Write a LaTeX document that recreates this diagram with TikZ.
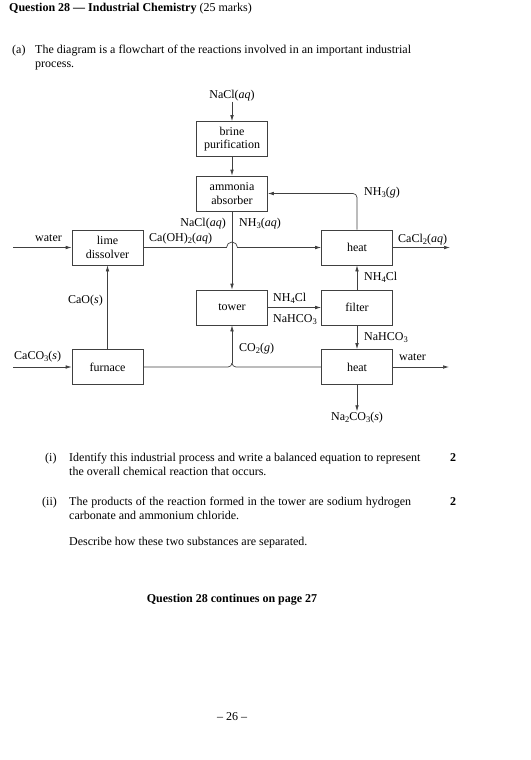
\documentclass[tikz,border=0pt]{standalone}
\usepackage{fontspec}
\setmainfont{Liberation Serif}
\usetikzlibrary{arrows.meta}
\newcommand{\chs}[1]{\raisebox{-0.45ex}{\fontsize{8.5}{9}\selectfont #1}}
\newcommand{\aqs}{(\textit{aq})}
\begin{document}
\begin{tikzpicture}[x=1pt,y=-1pt,
  font=\fontsize{12}{13.5}\selectfont,
  box/.style={draw=black!75, line width=0.7pt, minimum width=71pt, minimum height=35pt, align=center, inner sep=1pt},
  line/.style={draw=black!75, line width=0.7pt},
  arr/.style={line, -{Latex[length=6pt,width=3.6pt]}},
  lbl/.style={inner sep=0pt, text height=8.5pt, text depth=2.5pt},
  txt/.style={inner sep=0pt, anchor=base west},
]
\useasboundingbox (0,0) rectangle (530,760);

% header text
\node[txt] (title) at (9,12) {\textbf{Question 28 — Industrial Chemistry} (25 marks)};
\node[txt] (pa) at (12,54) {(a)};
\node[txt] (ta1) at (35,54) {The diagram is a flowchart of the reactions involved in an important industrial};
\node[txt] (ta2) at (35,67) {process.};

% boxes
\node[lbl] (nacl) at (232,96) {NaCl\aqs};
\node[box] (brine) at (232,139) {brine\\purification};
\node[box] (amm) at (232,193.5) {ammonia\\absorber};
\node[box] (lime) at (107.5,247.5) {lime\\dissolver};
\node[box] (heatA) at (357,247.5) {heat};
\node[box] (tower) at (232,307.5) {tower};
\node[box] (filter) at (357,307.5) {filter};
\node[box] (furnace) at (107.5,367) {furnace};
\node[box] (heatB) at (357,367) {heat};
\node[lbl] (na2co3) at (357,417) {Na\chs2CO\chs3(\textit{s})};

% free ends
\coordinate (wIn) at (13,247.5);
\coordinate (cIn) at (13,367);
\coordinate (caclOut) at (450,247.5);
\coordinate (wOut) at (449,367);
\coordinate (hop) at (232,247.5);
\coordinate (j) at (232,363);

% connectors
\draw[arr] (nacl) -- (brine);
\draw[arr] (brine) -- (amm);
\draw[arr] (amm) -- (tower);
\draw[arr, rounded corners=4pt] (heatA.north) |- (amm.east);
\draw[arr] (lime.east) -- ([xshift=-5.5pt]hop) arc[start angle=180,end angle=0,radius=5.5pt] -- (heatA.west);
\draw[arr] (wIn) -- (lime.west);
\draw[arr] (heatA.east) -- (caclOut);
\draw[arr] (furnace.north) -- (lime.south);
\draw[arr] (cIn) -- (furnace.west);
\draw[arr] (tower) -- (filter);
\draw[arr] (filter) -- (heatA);
\draw[arr] (filter) -- (heatB);
\draw[arr] (heatB.east) -- (wOut);
\draw[arr] (heatB.south) -- (na2co3.north);
\draw[line] (furnace.east) -- ([shift={(-4pt,-4pt)}]j) arc[start angle=-90,end angle=0,radius=4pt];
\draw[line] (heatB.west) -- ([shift={(4pt,-4pt)}]j) arc[start angle=-90,end angle=-180,radius=4pt];
\draw[arr] (j) -- (tower.south);

% connector labels
\node[lbl,anchor=west] (lwat1) at (35,238) {water};
\node[lbl,anchor=west] (lCaOH) at (149,238) {Ca(OH)\chs2\aqs};
\node[lbl,anchor=east] (lNaCl) at (226,223) {NaCl\aqs};
\node[lbl,anchor=west] (lNH3aq) at (239,223) {NH\chs3\aqs};
\node[lbl,anchor=west] (lNH3g) at (364,192) {NH\chs3(\textit{g})};
\node[lbl,anchor=west] (lCaCl) at (398,239) {CaCl\chs2\aqs};
\node[lbl,anchor=west] (lNH4a) at (364,277) {NH\chs4Cl};
\node[lbl,anchor=west] (lNH4b) at (273,298) {NH\chs4Cl};
\node[lbl,anchor=west] (lNaHa) at (273,319) {NaHCO\chs3};
\node[lbl,anchor=west] (lNaHb) at (364,337) {NaHCO\chs3};
\node[lbl,anchor=west] (lwat2) at (399,357) {water};
\node[lbl,anchor=west] (lCO2) at (239,348) {CO\chs2(\textit{g})};
\node[lbl,anchor=east] (lCaO) at (103,300) {CaO(\textit{s})};
\node[lbl,anchor=west] (lCaCO3) at (14,356) {CaCO\chs3(\textit{s})};

% questions
\node[txt] (pi) at (45,461) {(i)};
\node[txt] (ti1) at (69,461) {Identify this industrial process and write a balanced equation to represent};
\node[txt] (ti2) at (69,475) {the overall chemical reaction that occurs.};
\node[txt] (mi) at (450,461) {\textbf{2}};
\node[txt] (pii) at (42,505) {(ii)};
\node[txt] (tii1) at (69,505) {\makebox[342pt][s]{The products of the reaction formed in the tower are sodium hydrogen}};
\node[txt] (tii2) at (69,519) {carbonate and ammonium chloride.};
\node[txt] (mii) at (450,505) {\textbf{2}};
\node[txt] (tii3) at (69,545) {Describe how these two substances are separated.};
\node[inner sep=0pt, anchor=base] (cont) at (232,602) {\textbf{Question 28 continues on page 27}};
\node[inner sep=0pt, anchor=base] (pg) at (232,720) {– 26 –};
\end{tikzpicture}
\end{document}
